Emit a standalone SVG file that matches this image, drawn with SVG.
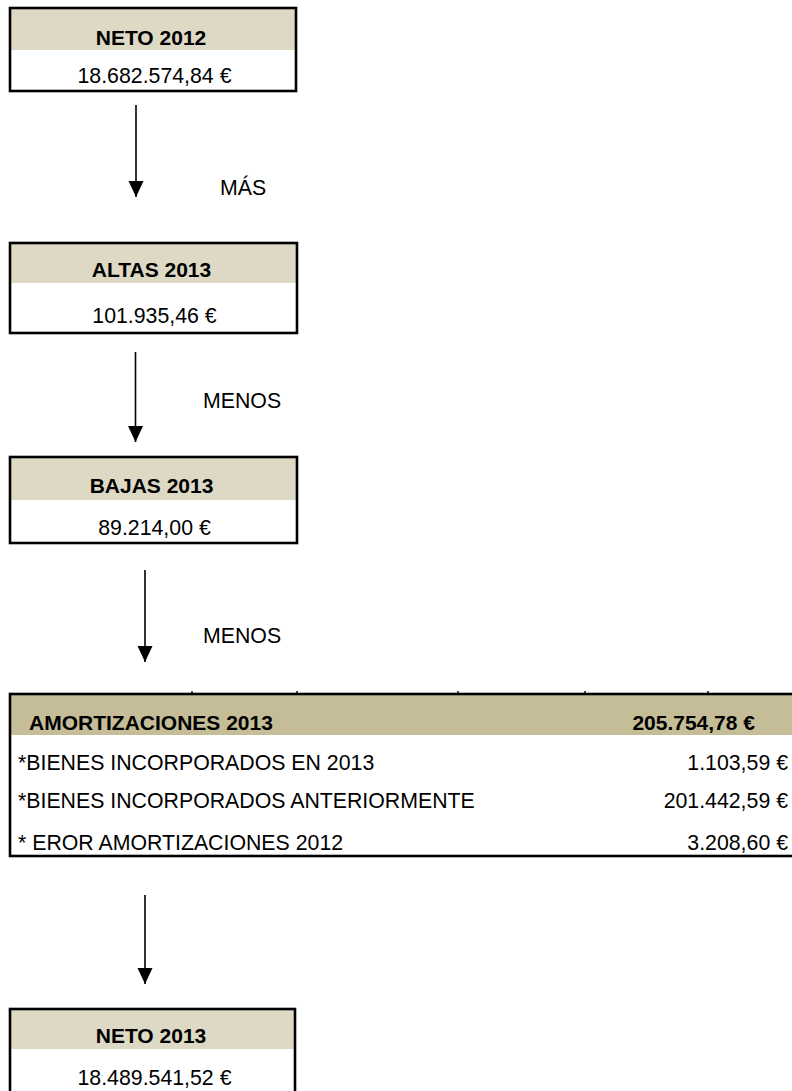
<svg xmlns="http://www.w3.org/2000/svg" width="792" height="1091" viewBox="0 0 792 1091">
<style>
.t{font-family:"Liberation Sans",Arial,sans-serif;fill:#000}
.b{font-weight:bold;font-size:21px}
.r{font-size:21.3px}
.hd{fill:#DDD9C4}
.hd2{fill:#C4BD97}
.fr{fill:none;stroke:#000;stroke-width:2.6}
.ln{stroke:#000;stroke-width:1.6;fill:none}
.tk{stroke:#000;stroke-width:1.4}
</style>
<defs>
<marker id="ah" viewBox="0 0 16 16" refX="16" refY="8" markerWidth="16" markerHeight="16" markerUnits="userSpaceOnUse" orient="auto">
<path d="M0,0.5 L16,8 L0,15.5 Z" fill="#000"/>
</marker>
</defs>
<rect width="792" height="1091" fill="#fff"/>
<g id="neto2012">
<rect class="hd" x="10" y="8" width="286" height="42"/>
<rect class="fr" x="10" y="8" width="286" height="83"/>
<text class="t b" x="151" y="45" text-anchor="middle">NETO 2012</text>
<text class="t r" x="154.5" y="83" text-anchor="middle">18.682.574,84 €</text>
</g>
<g id="altas2013">
<rect class="hd" x="10" y="243" width="287" height="40"/>
<rect class="fr" x="10" y="243" width="287" height="90"/>
<text class="t b" x="151.5" y="277" text-anchor="middle">ALTAS 2013</text>
<text class="t r" x="154.5" y="323" text-anchor="middle">101.935,46 €</text>
</g>
<g id="bajas2013">
<rect class="hd" x="10" y="457" width="287" height="43"/>
<rect class="fr" x="10" y="457" width="287" height="86"/>
<text class="t b" x="151.5" y="493" text-anchor="middle">BAJAS 2013</text>
<text class="t r" x="154.5" y="535" text-anchor="middle">89.214,00 €</text>
</g>
<g id="amortizaciones2013">
<rect class="hd2" x="10" y="694" width="790" height="41"/>
<rect class="fr" x="10" y="694" width="800" height="162"/>
<g class="tk">
<line x1="192" y1="691" x2="192" y2="694"/>
<line x1="297" y1="691" x2="297" y2="694"/>
<line x1="458" y1="691" x2="458" y2="694"/>
<line x1="585" y1="691" x2="585" y2="694"/>
<line x1="708" y1="691" x2="708" y2="694"/>
</g>
<text class="t b" x="29" y="730">AMORTIZACIONES 2013</text>
<text class="t b" x="755" y="730" text-anchor="end">205.754,78 €</text>
<text class="t r" x="18" y="770">*BIENES INCORPORADOS EN 2013</text>
<text class="t r" x="788" y="770" text-anchor="end">1.103,59 €</text>
<text class="t r" x="18" y="808">*BIENES INCORPORADOS ANTERIORMENTE</text>
<text class="t r" x="788" y="808" text-anchor="end">201.442,59 €</text>
<text class="t r" x="18" y="850">* EROR AMORTIZACIONES 2012</text>
<text class="t r" x="788" y="850" text-anchor="end">3.208,60 €</text>
</g>
<g id="neto2013">
<rect class="hd" x="10" y="1009" width="285" height="40"/>
<rect class="fr" x="10" y="1009" width="285" height="100"/>
<text class="t b" x="151" y="1043" text-anchor="middle">NETO 2013</text>
<text class="t r" x="154.5" y="1085" text-anchor="middle">18.489.541,52 €</text>
</g>
<g id="connectors">
<line class="ln" x1="136" y1="105" x2="136" y2="197" marker-end="url(#ah)"/>
<line class="ln" x1="135.5" y1="352" x2="135.5" y2="442" marker-end="url(#ah)"/>
<line class="ln" x1="145" y1="570" x2="145" y2="662" marker-end="url(#ah)"/>
<line class="ln" x1="145" y1="895" x2="145" y2="984" marker-end="url(#ah)"/>
<text class="t r" x="220" y="195">MÁS</text>
<text class="t r" x="203" y="408">MENOS</text>
<text class="t r" x="203" y="643">MENOS</text>
</g>
</svg>
